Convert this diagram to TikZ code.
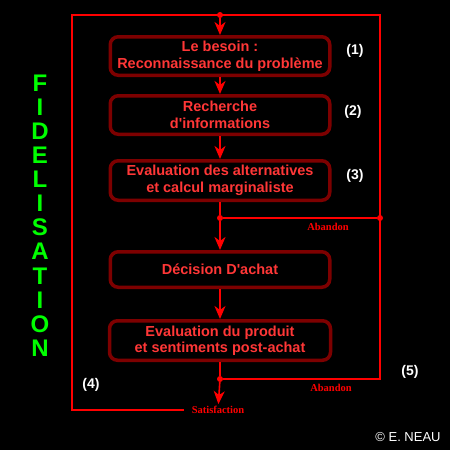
\documentclass[tikz,border=0pt]{standalone}
\usepackage{fontspec}
\setmainfont{Liberation Serif}
\setsansfont{Liberation Sans}
\usepackage{tikz}
\usetikzlibrary{arrows.meta, positioning}
\definecolor{rouge}{RGB}{255,0,0}
\definecolor{bordeau}{RGB}{125,0,0}
\definecolor{texterouge}{RGB}{255,55,55}
\definecolor{vert}{RGB}{0,255,0}
\tikzstyle{etape} = [rectangle, rounded corners=8pt, minimum width=219.5pt, minimum height=38.5pt, text centered, align=center, draw=bordeau, line width=3.5pt, fill=black, text=texterouge, font=\sffamily\bfseries\fontsize{14.5}{16.5}\selectfont]
\tikzstyle{ligne} = [draw=rouge, line width=1.6pt]
\tikzstyle{fleche} = [ligne, -{Stealth[length=13pt, width=11pt, inset=4pt]}]
\tikzstyle{point} = [circle, fill=rouge, inner sep=0pt, minimum size=6pt]
\tikzstyle{numero} = [text=white, font=\sffamily\bfseries\fontsize{14}{16}\selectfont]
\tikzstyle{abandon} = [text=rouge, font=\rmfamily\bfseries\fontsize{10.5}{12}\selectfont]
\tikzstyle{lettre} = [text=vert, font=\sffamily\bfseries\fontsize{24}{24}\selectfont]

\begin{document}
\begin{tikzpicture}[x=1pt, y=-1pt]

% fond
\fill[black] (0,0) rectangle (450,450);

% Etapes
\node (besoin) [etape] at (220,56) {Le besoin :\\Reconnaissance du problème};
\node (recherche) [etape, below=17pt of besoin] {Recherche\\d\textquotesingle informations};
\node (evalalt) [etape, below=23pt of recherche, minimum height=39.5pt] {Evaluation des alternatives\\et calcul marginaliste};
\node (decision) [etape, below=48pt of evalalt, minimum height=35.5pt] {Décision D\textquotesingle achat};
\node (evalprod) [etape, below=30pt of decision, minimum height=39.5pt, minimum width=221pt] {Evaluation du produit\\et sentiments post-achat};

% Points de jonction
\node (haut) [point] at (220,15) {};
\node (p3) [point] at (220,218) {};
\node (ab3) [point] at (380,218) {};
\node (p5) [point] at (220,379) {};
\coordinate (hg) at (72,15);
\coordinate (hd) at (380,15);
\coordinate (bd) at (380,379);

% Libelles
\node (satis) [abandon, inner xsep=8pt, inner ysep=2pt] at (218,410) {Satisfaction};
\node (ab1) [abandon] at (328,227) {Abandon};
\node (ab2) [abandon] at (331,388) {Abandon};

% Numeros
\node (n1) [numero] at (355,51) {(1)};
\node (n2) [numero] at (353,112) {(2)};
\node (n3) [numero] at (355,176) {(3)};
\node (n4) [numero] at (91,385) {(4)};
\node (n5) [numero] at (410,372) {(5)};

% FIDELISATION
\foreach \l [count=\i from 0] in {F,I,D,E,L,I,S,A,T,I,O,N}
  \node (f\i) [lettre] at (40,83+24.1*\i) {\l};

\node (copy) [text=white, font=\sffamily\fontsize{13}{15}\selectfont] at (408,437) {© E. NEAU};

% Liaisons
\draw [ligne] (satis.west) -| (hg) -- (hd) -- (bd) -- (p5);
\draw [ligne] (p3) -- (ab3);
\draw [ligne] (evalalt) -- (p3);
\draw [ligne] (evalprod) -- (p5);
\draw [fleche] (haut) -- (besoin);
\draw [fleche] (besoin) -- (recherche);
\draw [fleche] (recherche) -- (evalalt);
\draw [fleche] (p3) -- (decision);
\draw [fleche] (decision) -- (evalprod);
\draw [fleche] (p5) -- (satis);

\end{tikzpicture}
\end{document}
